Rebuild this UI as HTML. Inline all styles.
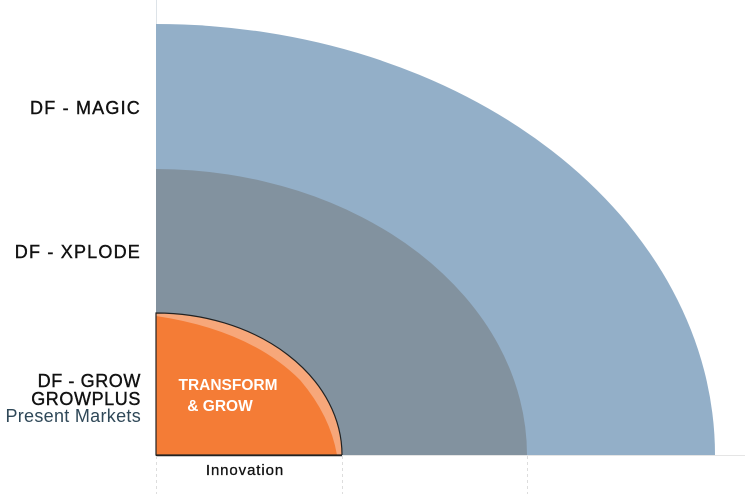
<!DOCTYPE html>
<html><head><style>
body{margin:0;background:#fff;width:745px;height:494px;overflow:hidden}
svg{display:block}
text{font-family:"Liberation Sans",sans-serif}
</style></head><body>
<svg width="745" height="494" viewBox="0 0 745 494">
<line x1="156.5" y1="0" x2="156.5" y2="455" stroke="#dde3e8" stroke-width="1"/>
<path d="M156 455 L156 24 A559 431 0 0 1 715 455 Z" fill="#93afc8"/>
<path d="M156 455 L156 169 A371 286 0 0 1 527 455 Z" fill="#82929f"/>
<path d="M156 455 L156 313 A186 142 0 0 1 342 455 Z" fill="#f7a77a"/>
<path d="M156 455 L156 316 Q250 330 300 380 Q330 415 337 455 Z" fill="#f47c36"/>
<path d="M156 455 L156 313 A186 142 0 0 1 342 455 Z" fill="none" stroke="#222" stroke-width="1.2"/>
<line x1="156" y1="455.5" x2="745" y2="455.5" stroke="#e5e5e5" stroke-width="1"/>
<line x1="156" y1="455.5" x2="342" y2="455.5" stroke="#222" stroke-width="1.5"/>
<g stroke="#ddd" stroke-dasharray="3,3">
<line x1="156.5" y1="456" x2="156.5" y2="494"/>
<line x1="342.5" y1="456" x2="342.5" y2="494"/>
<line x1="527.5" y1="456" x2="527.5" y2="494"/>
</g>
<g fill="#111" stroke="#111" stroke-width="0.4" font-size="18" letter-spacing="1.2" text-anchor="end">
<text x="141" y="114">DF - MAGIC</text>
<text x="141" y="258">DF - XPLODE</text>
<text x="141" y="387" letter-spacing="0.6">DF - GROW</text>
<text x="141" y="405" letter-spacing="0.6">GROWPLUS</text>
</g>
<text x="141" y="422" text-anchor="end" font-size="18" fill="#2f4858" letter-spacing="0.3">Present Markets</text>
<text x="228" y="390" text-anchor="middle" font-size="15.5" font-weight="bold" fill="#fff">TRANSFORM</text>
<text x="220" y="411" text-anchor="middle" font-size="15.5" font-weight="bold" fill="#fff">&amp; GROW</text>
<text x="245" y="475" text-anchor="middle" font-size="15" fill="#111" stroke="#111" stroke-width="0.3" letter-spacing="0.9">Innovation</text>
</svg>
</body></html>
